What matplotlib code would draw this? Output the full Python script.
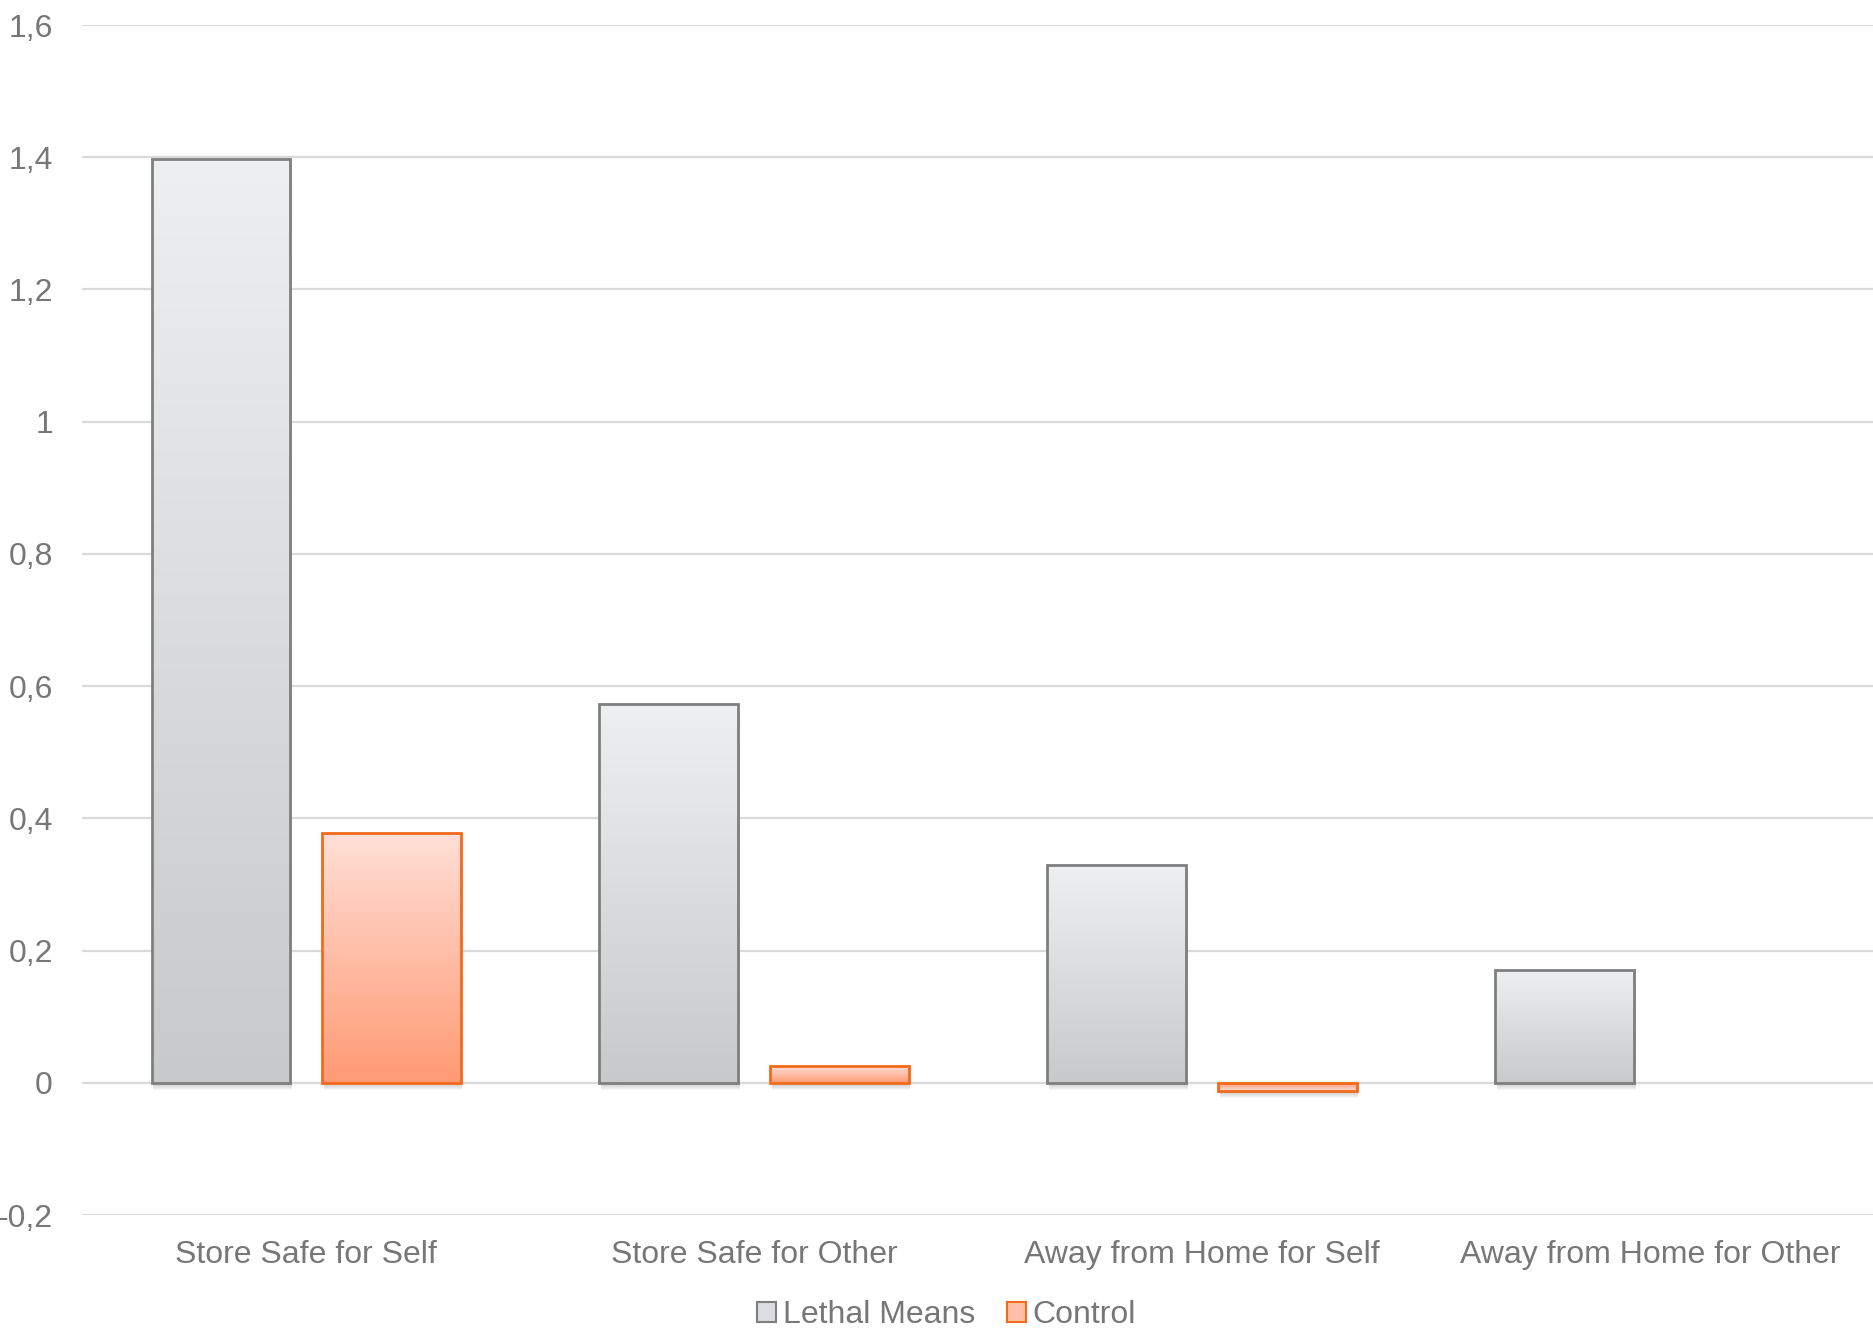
import numpy as np
import matplotlib.pyplot as plt
from matplotlib.patches import Rectangle, Patch
from matplotlib.colors import LinearSegmentedColormap

plt.rcParams['font.family'] = ['Liberation Sans', 'DejaVu Sans']

categorias = ["Store Safe for Self", "Store Safe for Other",
              "Away from Home for Self", "Away from Home for Other"]
lethal_means = [1.397, 0.573, 0.330, 0.171]
control = [0.378, 0.025, -0.012, 0.0]
ticks_y = [-0.2, 0, 0.2, 0.4, 0.6, 0.8, 1.0, 1.2, 1.4, 1.6]

gris_txt = "#777777"

fig = plt.figure(figsize=(18.74, 13.33), dpi=100)
ax = fig.add_axes([0.0438, 0.0885, 0.9562, 0.8927])
ax.set_xlim(-0.5, 3.5)
ax.set_ylim(-0.2, 1.6)

for t in ticks_y:
    ax.axhline(t, color="#d9d9d9", lw=1.6, zorder=0)

cmap_gris = LinearSegmentedColormap.from_list("g", ["#c8c9cb", "#eeeff1"])
cmap_nar = LinearSegmentedColormap.from_list("o", ["#ff9a74", "#ffdfd6"])
grad = np.linspace(0, 1, 256).reshape(-1, 1)

ancho = 0.31
desp = 0.19


def barra(x, v, cmap, borde):
    if v == 0:
        return
    y0, y1 = min(0, v), max(0, v)
    # sombra suave debajo de la barra
    for k in range(6):
        s = Rectangle((x - ancho / 2 + 0.004, y0 - 0.004 - k * 0.0015),
                      ancho, y1 - y0, facecolor="#000000", alpha=0.03,
                      edgecolor="none", zorder=1)
        ax.add_patch(s)
    img = grad if v > 0 else grad[::-1]
    im = ax.imshow(img, extent=(x - ancho / 2, x + ancho / 2, y0, y1),
                   origin="lower", cmap=cmap, aspect="auto", zorder=2)
    r = Rectangle((x - ancho / 2, y0), ancho, y1 - y0, facecolor="none",
                  edgecolor=borde, lw=2.0, zorder=3)
    ax.add_patch(r)
    im.set_clip_path(r)


for i in range(len(categorias)):
    barra(i - desp, lethal_means[i], cmap_gris, "#7f7f7f")
    barra(i + desp, control[i], cmap_nar, "#f26a1b")

ax.set_xlim(-0.5, 3.5)
ax.set_ylim(-0.2, 1.6)

for s in ax.spines.values():
    s.set_visible(False)

ax.set_yticks(ticks_y)
ax.set_yticklabels([("%g" % t).replace(".", ",") for t in ticks_y])
ax.set_xticks(range(len(categorias)))
ax.set_xticklabels(categorias)
ax.tick_params(axis="y", length=0, pad=21, labelsize=23, labelcolor=gris_txt)
ax.tick_params(axis="x", length=0, pad=18, labelsize=23, labelcolor=gris_txt)

handles = [Patch(facecolor="#dcdde0", edgecolor="#7f7f7f", lw=1.5, label="Lethal Means"),
           Patch(facecolor="#ffbfa9", edgecolor="#f26a1b", lw=1.5, label="Control")]
fig.legend(handles=handles, loc="center", bbox_to_anchor=(0.505, 0.0135), ncol=2,
           frameon=False, fontsize=23, labelcolor=gris_txt, handlelength=0.6,
           handleheight=0.6, handletextpad=0.2, columnspacing=1.0)

fig.savefig("out.png", dpi=100)
